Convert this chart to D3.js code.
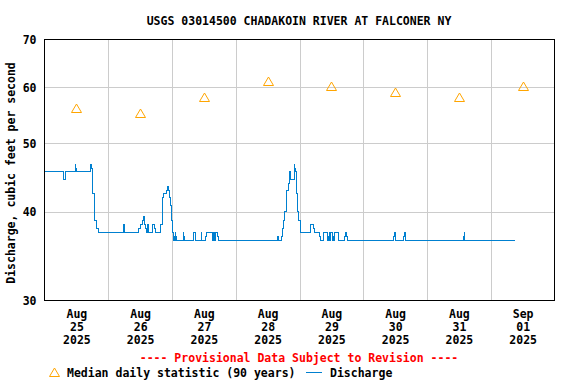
<!DOCTYPE html>
<html>
<head>
<meta charset="utf-8">
<script src="https://cdn.jsdelivr.net/npm/d3@7"></script>
<style>
  body { margin: 0; background: #fff; }
  svg text { font-family: "DejaVu Sans Mono", "Liberation Mono", monospace; font-weight: bold; font-size: 11.5px; }
</style>
</head>
<body>
<div id="chart"></div>
<script>
// discharge record, step changes
// hours after 2025-08-25 00:00, and value in cubic feet per second
const flowHours = [
  0, 7, 7.25, 7.75, 11.5, 11.75, 12, 17.25, 17.75, 18, 18.25, 18.75, 19, 19.5, 19.75, 20.25,
  29.75, 30, 30.25, 35.5, 36, 37, 37.25, 37.5, 38, 38.25, 38.75, 39, 40.5, 41.25, 41.75,
  43.75, 44.25, 44.75, 45.75, 46.25, 46.75, 47, 47.25, 47.75, 48, 48.25, 48.5, 48.75, 49, 49.25, 49.5, 49.75,
  52.25, 52.5, 52.75, 56, 56.25, 56.75, 59, 59.25, 60.5, 61, 63.25, 63.75, 64, 64.25, 65.25, 65.5,
  87.75, 88.25, 89.25, 89.75, 90, 90.5, 91, 91.25, 91.75, 92, 92.25, 92.5, 94, 94.25, 94.5, 94.75, 95, 95.25, 95.75, 96.25, 96.5,
  100, 101.25, 101.5, 103.5, 103.75, 105, 106.5, 106.75, 107, 107.25, 107.5, 107.75, 108.25, 108.5, 108.75, 109,
  110.75, 113, 113.25, 113.75, 114, 131.5, 131.75, 132, 135.25, 135.5, 135.75, 157.75, 158, 158.25, 177
];
const flowCfs = [
  45.6, 45.1, 44.4, 45.6, 46.6, 46.1, 45.6, 46.6, 46.1, 44.4, 42.4, 40.0, 38.9, 38.4, 37.9, 37.4,
  38.4, 37.9, 37.4, 37.9, 38.4, 38.9, 39.4, 38.4, 37.9, 37.4, 38.4, 37.4, 38.4, 37.9, 37.4,
  38.4, 41.9, 42.4, 42.9, 43.4, 42.9, 41.9, 40.8, 38.9, 37.9, 37.4, 36.4, 36.9, 36.4, 37.4, 36.9, 36.4,
  37.4, 36.9, 36.4, 36.9, 37.4, 36.4, 37.4, 36.4, 36.9, 37.4, 36.4, 37.4, 36.4, 37.4, 36.9, 36.4,
  36.9, 36.4, 36.9, 37.9, 38.9, 40.0, 42.4, 42.9, 43.4, 43.9, 45.6, 44.4, 46.6, 46.1, 45.6, 43.9, 42.4, 40.0, 38.9, 37.9, 37.4,
  38.4, 37.9, 37.4, 36.9, 36.4, 37.4, 36.4, 36.9, 36.4, 37.4, 36.4, 37.4, 36.4, 36.9, 36.4, 37.4,
  36.4, 36.9, 37.4, 36.9, 36.4, 36.9, 37.4, 36.4, 36.9, 37.4, 36.4, 36.9, 37.4, 36.4, 36.4
];

// median daily statistic, one per day (plotted at noon)
const medianDays = ["2025-08-25", "2025-08-26", "2025-08-27", "2025-08-28", "2025-08-29", "2025-08-30", "2025-08-31", "2025-09-01"];
const medianCfs = [56.1, 55.2, 58.1, 61.2, 60.2, 59.1, 58.1, 60.2];

const yTicks = [30, 40, 50, 60, 70];
const yGrid = [40, 50, 60];

const title = "USGS 03014500 CHADAKOIN RIVER AT FALCONER NY";
const yLabel = "Discharge, cubic feet per second";
const notice = "---- Provisional Data Subject to Revision ----";
const medianLabel = "Median daily statistic (90 years)";
const flowLabel = "Discharge";

const width = 576;
const height = 384;
const marginLeft = 44.5;
const marginRight = 554.5;
const marginTop = 39.5;
const marginBottom = 300.5;

const t0 = new Date(Date.UTC(2025, 7, 25));
const t1 = new Date(Date.UTC(2025, 8, 2));
const hourMs = 3600 * 1000;

const x = d3.scaleUtc().domain([t0, t1]).range([marginLeft, marginRight]);
const y = d3.scaleLog().domain([30, 70]).range([marginBottom, marginTop]);

const flow = flowHours.map((h, i) => ({ date: new Date(+t0 + h * hourMs), value: flowCfs[i] }));
const medians = medianDays.map((d, i) => ({ date: new Date(+d3.utcParse("%Y-%m-%d")(d) + 12 * hourMs), value: medianCfs[i] }));

const svg = d3.select("#chart").append("svg")
    .attr("width", width)
    .attr("height", height)
    .attr("viewBox", [0, 0, width, height]);

//title
svg.append("text")
    .attr("x", 299)
    .attr("y", 24.5)
    .attr("text-anchor", "middle")
    .attr("fill", "#000")
    .text(title);

//grid lines
const grid = svg.append("g")
    .attr("stroke", "#cccccc")
    .attr("stroke-width", 1)
    .attr("shape-rendering", "crispEdges");

grid.selectAll("line.v")
    .data(d3.utcDay.range(d3.utcDay.offset(t0, 1), t1))
    .join("line")
    .attr("class", "v")
    .attr("x1", d => Math.round(x(d)) + 0.5)
    .attr("x2", d => Math.round(x(d)) + 0.5)
    .attr("y1", marginTop)
    .attr("y2", marginBottom);

grid.selectAll("line.h")
    .data(yGrid)
    .join("line")
    .attr("class", "h")
    .attr("x1", marginLeft)
    .attr("x2", marginRight)
    .attr("y1", d => Math.round(y(d)) + 0.5)
    .attr("y2", d => Math.round(y(d)) + 0.5);

//discharge line
const line = d3.line()
    .x(d => x(d.date))
    .y(d => y(d.value))
    .curve(d3.curveStepAfter);

svg.append("path")
    .datum(flow)
    .attr("fill", "none")
    .attr("stroke", "#0080d0")
    .attr("stroke-width", 1)
    .attr("shape-rendering", "crispEdges")
    .attr("d", line);

//median triangles
const tri = "M0,-4.5L5,4L-5,4Z";
svg.append("g")
    .selectAll("path")
    .data(medians)
    .join("path")
    .attr("transform", d => `translate(${Math.round(x(d.date)) + 0.5},${Math.round(y(d.value)) + 0.5})`)
    .attr("d", tri)
    .attr("fill", "none")
    .attr("stroke", "#ffa500")
    .attr("stroke-width", 1);

//plot frame
svg.append("rect")
    .attr("x", marginLeft)
    .attr("y", marginTop)
    .attr("width", marginRight - marginLeft)
    .attr("height", marginBottom - marginTop)
    .attr("fill", "none")
    .attr("stroke", "#000")
    .attr("shape-rendering", "crispEdges");

//y axis labels
const yAxis = svg.append("g")
    .attr("transform", `translate(${marginLeft},0)`)
    .call(d3.axisLeft(y).tickValues(yTicks).tickFormat(d3.format("d")).tickSize(0).tickPadding(8));
yAxis.select(".domain").remove();
yAxis.selectAll("text")
    .attr("fill", "#000")
    .style("font-family", null)
    .attr("font-size", null)
    .attr("dy", "0.35em");

//x axis labels, three lines each, at noon
const noonTicks = d3.utcDay.range(t0, t1).map(d => new Date(+d + 12 * hourMs));
const xAxis = svg.append("g")
    .attr("transform", `translate(0,${marginBottom})`)
    .call(d3.axisBottom(x).tickValues(noonTicks).tickSize(0).tickFormat(""));
xAxis.select(".domain").remove();
xAxis.selectAll(".tick text").remove();
xAxis.selectAll(".tick")
    .append("text")
    .attr("fill", "#000")
    .attr("text-anchor", "middle")
    .selectAll("tspan")
    .data(d => [d3.utcFormat("%b")(d), d3.utcFormat("%d")(d), d3.utcFormat("%Y")(d)])
    .join("tspan")
    .attr("x", 0)
    .attr("y", (d, i) => 17.5 + i * 13)
    .text(d => d);

//y axis title
svg.append("text")
    .attr("transform", "translate(15,173) rotate(-90)")
    .attr("text-anchor", "middle")
    .attr("fill", "#000")
    .text(yLabel);

//provisional notice
svg.append("text")
    .attr("x", 299)
    .attr("y", 362)
    .attr("text-anchor", "middle")
    .attr("fill", "#ff0000")
    .text(notice);

//legend
const legend = svg.append("g");
legend.append("path")
    .attr("transform", "translate(54.5,372.5)")
    .attr("d", tri)
    .attr("fill", "none")
    .attr("stroke", "#ffa500");
legend.append("text")
    .attr("x", 67)
    .attr("y", 377)
    .attr("fill", "#000")
    .text(medianLabel);
legend.append("line")
    .attr("x1", 306)
    .attr("x2", 322)
    .attr("y1", 372.5)
    .attr("y2", 372.5)
    .attr("stroke", "#0080d0");
legend.append("text")
    .attr("x", 330)
    .attr("y", 377)
    .attr("fill", "#000")
    .text(flowLabel);
</script>
</body>
</html>
